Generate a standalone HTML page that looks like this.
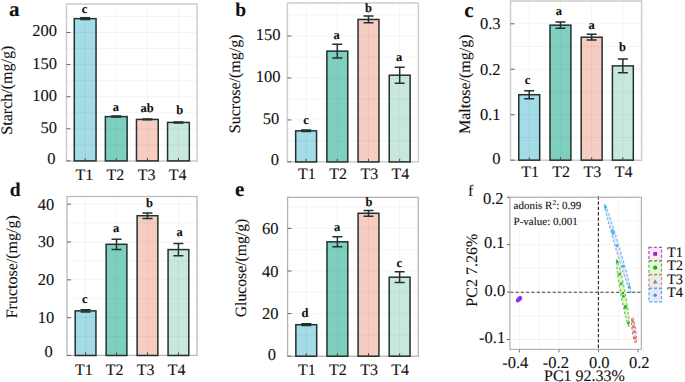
<!DOCTYPE html>
<html><head><meta charset="utf-8"><style>
html,body{margin:0;padding:0;background:#fff;width:685px;height:382px;overflow:hidden}
svg{display:block}
text{text-rendering:geometricPrecision;font-family:"Liberation Serif", serif;fill:#111;stroke:#111;stroke-width:0.1px}
</style></head><body>
<svg width="685" height="382" viewBox="0 0 685 382">
<rect x="74.27" y="18.63" width="21.77" height="142.27" fill="#a3dbe6"/>
<rect x="105.37" y="116.60" width="21.77" height="44.30" fill="#7fcfbf"/>
<rect x="136.46" y="119.43" width="21.77" height="41.47" fill="#f8cdc1"/>
<rect x="167.56" y="122.44" width="21.77" height="38.46" fill="#c8e8de"/>
<line x1="66.5" y1="160.90" x2="197.1" y2="160.90" stroke="rgba(0,0,0,0.055)" stroke-width="0.8"/>
<line x1="66.5" y1="144.85" x2="197.1" y2="144.85" stroke="rgba(0,0,0,0.055)" stroke-width="0.8"/>
<line x1="66.5" y1="128.80" x2="197.1" y2="128.80" stroke="rgba(0,0,0,0.055)" stroke-width="0.8"/>
<line x1="66.5" y1="112.75" x2="197.1" y2="112.75" stroke="rgba(0,0,0,0.055)" stroke-width="0.8"/>
<line x1="66.5" y1="96.70" x2="197.1" y2="96.70" stroke="rgba(0,0,0,0.055)" stroke-width="0.8"/>
<line x1="66.5" y1="80.65" x2="197.1" y2="80.65" stroke="rgba(0,0,0,0.055)" stroke-width="0.8"/>
<line x1="66.5" y1="64.60" x2="197.1" y2="64.60" stroke="rgba(0,0,0,0.055)" stroke-width="0.8"/>
<line x1="66.5" y1="48.55" x2="197.1" y2="48.55" stroke="rgba(0,0,0,0.055)" stroke-width="0.8"/>
<line x1="66.5" y1="32.50" x2="197.1" y2="32.50" stroke="rgba(0,0,0,0.055)" stroke-width="0.8"/>
<line x1="66.5" y1="16.45" x2="197.1" y2="16.45" stroke="rgba(0,0,0,0.055)" stroke-width="0.8"/>
<line x1="85.16" y1="4" x2="85.16" y2="161" stroke="rgba(0,0,0,0.055)" stroke-width="0.8"/>
<line x1="116.25" y1="4" x2="116.25" y2="161" stroke="rgba(0,0,0,0.055)" stroke-width="0.8"/>
<line x1="147.35" y1="4" x2="147.35" y2="161" stroke="rgba(0,0,0,0.055)" stroke-width="0.8"/>
<line x1="178.44" y1="4" x2="178.44" y2="161" stroke="rgba(0,0,0,0.055)" stroke-width="0.8"/>
<rect x="66.5" y="4" width="130.60" height="157.00" fill="none" stroke="#cdcdcd" stroke-width="1.5"/>
<rect x="74.27" y="18.63" width="21.77" height="142.27" fill="none" stroke="#223030" stroke-width="1.5"/>
<path d="M85.16 17.86V19.40M80.16 17.86H90.16M80.16 19.40H90.16" stroke="#223030" stroke-width="1.5" fill="none"/>
<text x="84.55" y="12.90" font-size="12.5" font-weight="bold" text-anchor="middle">c</text>
<rect x="105.37" y="116.60" width="21.77" height="44.30" fill="none" stroke="#223030" stroke-width="1.5"/>
<path d="M116.25 116.09V117.12M111.25 116.09H121.25M111.25 117.12H121.25" stroke="#223030" stroke-width="1.5" fill="none"/>
<text x="115.95" y="111.30" font-size="12.5" font-weight="bold" text-anchor="middle">a</text>
<rect x="136.46" y="119.43" width="21.77" height="41.47" fill="none" stroke="#223030" stroke-width="1.5"/>
<path d="M147.35 119.04V119.81M142.35 119.04H152.35M142.35 119.81H152.35" stroke="#223030" stroke-width="1.5" fill="none"/>
<text x="147.15" y="112.30" font-size="12.5" font-weight="bold" text-anchor="middle">ab</text>
<rect x="167.56" y="122.44" width="21.77" height="38.46" fill="none" stroke="#223030" stroke-width="1.5"/>
<path d="M178.44 121.93V122.96M173.44 121.93H183.44M173.44 122.96H183.44" stroke="#223030" stroke-width="1.5" fill="none"/>
<text x="179.85" y="114.00" font-size="12.5" font-weight="bold" text-anchor="middle">b</text>
<line x1="66.5" y1="160.90" x2="70.5" y2="160.90" stroke="#666" stroke-width="1"/>
<text x="55.50" y="163.90" font-size="16.5" text-anchor="end">0</text>
<line x1="66.5" y1="128.80" x2="70.5" y2="128.80" stroke="#666" stroke-width="1"/>
<text x="57.10" y="132.70" font-size="16.5" text-anchor="end">50</text>
<line x1="66.5" y1="96.70" x2="70.5" y2="96.70" stroke="#666" stroke-width="1"/>
<text x="57.10" y="100.60" font-size="16.5" text-anchor="end">100</text>
<line x1="66.5" y1="64.60" x2="70.5" y2="64.60" stroke="#666" stroke-width="1"/>
<text x="57.10" y="68.50" font-size="16.5" text-anchor="end">150</text>
<line x1="66.5" y1="32.50" x2="70.5" y2="32.50" stroke="#666" stroke-width="1"/>
<text x="57.10" y="36.40" font-size="16.5" text-anchor="end">200</text>
<line x1="85.16" y1="161" x2="85.16" y2="158" stroke="#444" stroke-width="1"/>
<text x="84.36" y="180.00" font-size="16" text-anchor="middle">T1</text>
<line x1="116.25" y1="161" x2="116.25" y2="158" stroke="#444" stroke-width="1"/>
<text x="115.45" y="180.00" font-size="16" text-anchor="middle">T2</text>
<line x1="147.35" y1="161" x2="147.35" y2="158" stroke="#444" stroke-width="1"/>
<text x="146.55" y="180.00" font-size="16" text-anchor="middle">T3</text>
<line x1="178.44" y1="161" x2="178.44" y2="158" stroke="#444" stroke-width="1"/>
<text x="177.64" y="180.00" font-size="16" text-anchor="middle">T4</text>
<text transform="translate(11.8,90.2) rotate(-90)" font-size="16" text-anchor="middle">Starch/(mg/g)</text>
<text x="9.1" y="16" font-size="21" font-weight="bold">a</text>
<rect x="295.67" y="130.85" width="20.90" height="31.05" fill="#a3dbe6"/>
<rect x="326.86" y="51.11" width="20.90" height="110.79" fill="#7fcfbf"/>
<rect x="358.05" y="19.47" width="20.90" height="142.43" fill="#f8cdc1"/>
<rect x="389.24" y="75.20" width="20.90" height="86.70" fill="#c8e8de"/>
<line x1="287.4" y1="140.92" x2="418.4" y2="140.92" stroke="rgba(0,0,0,0.055)" stroke-width="0.8"/>
<line x1="287.4" y1="119.94" x2="418.4" y2="119.94" stroke="rgba(0,0,0,0.055)" stroke-width="0.8"/>
<line x1="287.4" y1="98.95" x2="418.4" y2="98.95" stroke="rgba(0,0,0,0.055)" stroke-width="0.8"/>
<line x1="287.4" y1="77.97" x2="418.4" y2="77.97" stroke="rgba(0,0,0,0.055)" stroke-width="0.8"/>
<line x1="287.4" y1="56.99" x2="418.4" y2="56.99" stroke="rgba(0,0,0,0.055)" stroke-width="0.8"/>
<line x1="287.4" y1="36.00" x2="418.4" y2="36.00" stroke="rgba(0,0,0,0.055)" stroke-width="0.8"/>
<line x1="287.4" y1="15.02" x2="418.4" y2="15.02" stroke="rgba(0,0,0,0.055)" stroke-width="0.8"/>
<line x1="306.11" y1="3" x2="306.11" y2="161.8" stroke="rgba(0,0,0,0.055)" stroke-width="0.8"/>
<line x1="337.30" y1="3" x2="337.30" y2="161.8" stroke="rgba(0,0,0,0.055)" stroke-width="0.8"/>
<line x1="368.50" y1="3" x2="368.50" y2="161.8" stroke="rgba(0,0,0,0.055)" stroke-width="0.8"/>
<line x1="399.69" y1="3" x2="399.69" y2="161.8" stroke="rgba(0,0,0,0.055)" stroke-width="0.8"/>
<rect x="287.4" y="3" width="131.00" height="158.80" fill="none" stroke="#cdcdcd" stroke-width="1.5"/>
<rect x="295.67" y="130.85" width="20.90" height="31.05" fill="none" stroke="#223030" stroke-width="1.5"/>
<path d="M306.11 130.09V131.60M301.11 130.09H311.11M301.11 131.60H311.11" stroke="#223030" stroke-width="1.5" fill="none"/>
<text x="306.00" y="123.60" font-size="12.5" font-weight="bold" text-anchor="middle">c</text>
<rect x="326.86" y="51.11" width="20.90" height="110.79" fill="none" stroke="#223030" stroke-width="1.5"/>
<path d="M337.30 44.23V57.99M332.30 44.23H342.30M332.30 57.99H342.30" stroke="#223030" stroke-width="1.5" fill="none"/>
<text x="336.50" y="39.00" font-size="12.5" font-weight="bold" text-anchor="middle">a</text>
<rect x="358.05" y="19.47" width="20.90" height="142.43" fill="none" stroke="#223030" stroke-width="1.5"/>
<path d="M368.50 16.11V22.83M363.50 16.11H373.50M363.50 22.83H373.50" stroke="#223030" stroke-width="1.5" fill="none"/>
<text x="368.60" y="12.30" font-size="12.5" font-weight="bold" text-anchor="middle">b</text>
<rect x="389.24" y="75.20" width="20.90" height="86.70" fill="none" stroke="#223030" stroke-width="1.5"/>
<path d="M399.69 67.14V83.26M394.69 67.14H404.69M394.69 83.26H404.69" stroke="#223030" stroke-width="1.5" fill="none"/>
<text x="399.20" y="60.50" font-size="12.5" font-weight="bold" text-anchor="middle">a</text>
<line x1="287.4" y1="161.90" x2="291.4" y2="161.90" stroke="#666" stroke-width="1"/>
<text x="278.90" y="164.60" font-size="16.5" text-anchor="end">0</text>
<line x1="287.4" y1="119.94" x2="291.4" y2="119.94" stroke="#666" stroke-width="1"/>
<text x="279.20" y="124.14" font-size="16.5" text-anchor="end">50</text>
<line x1="287.4" y1="77.97" x2="291.4" y2="77.97" stroke="#666" stroke-width="1"/>
<text x="280.40" y="82.17" font-size="16.5" text-anchor="end">100</text>
<line x1="287.4" y1="36.00" x2="291.4" y2="36.00" stroke="#666" stroke-width="1"/>
<text x="280.40" y="40.20" font-size="16.5" text-anchor="end">150</text>
<line x1="306.11" y1="161.8" x2="306.11" y2="158.8" stroke="#444" stroke-width="1"/>
<text x="306.91" y="179.30" font-size="16" text-anchor="middle">T1</text>
<line x1="337.30" y1="161.8" x2="337.30" y2="158.8" stroke="#444" stroke-width="1"/>
<text x="338.10" y="179.30" font-size="16" text-anchor="middle">T2</text>
<line x1="368.50" y1="161.8" x2="368.50" y2="158.8" stroke="#444" stroke-width="1"/>
<text x="369.30" y="179.30" font-size="16" text-anchor="middle">T3</text>
<line x1="399.69" y1="161.8" x2="399.69" y2="158.8" stroke="#444" stroke-width="1"/>
<text x="400.49" y="179.30" font-size="16" text-anchor="middle">T4</text>
<text transform="translate(240.3,83.8) rotate(-90)" font-size="16" text-anchor="middle">Sucrose/(mg/g)</text>
<text x="235.3" y="16" font-size="19.5" font-weight="bold">b</text>
<rect x="518.77" y="94.70" width="20.91" height="65.45" fill="#a3dbe6"/>
<rect x="549.99" y="25.16" width="20.91" height="134.99" fill="#7fcfbf"/>
<rect x="581.20" y="37.21" width="20.91" height="122.94" fill="#f8cdc1"/>
<rect x="612.41" y="65.89" width="20.91" height="94.26" fill="#c8e8de"/>
<line x1="510.5" y1="160.15" x2="641.6" y2="160.15" stroke="rgba(0,0,0,0.055)" stroke-width="0.8"/>
<line x1="510.5" y1="137.43" x2="641.6" y2="137.43" stroke="rgba(0,0,0,0.055)" stroke-width="0.8"/>
<line x1="510.5" y1="114.70" x2="641.6" y2="114.70" stroke="rgba(0,0,0,0.055)" stroke-width="0.8"/>
<line x1="510.5" y1="91.97" x2="641.6" y2="91.97" stroke="rgba(0,0,0,0.055)" stroke-width="0.8"/>
<line x1="510.5" y1="69.25" x2="641.6" y2="69.25" stroke="rgba(0,0,0,0.055)" stroke-width="0.8"/>
<line x1="510.5" y1="46.53" x2="641.6" y2="46.53" stroke="rgba(0,0,0,0.055)" stroke-width="0.8"/>
<line x1="510.5" y1="23.80" x2="641.6" y2="23.80" stroke="rgba(0,0,0,0.055)" stroke-width="0.8"/>
<line x1="510.5" y1="1.08" x2="641.6" y2="1.08" stroke="rgba(0,0,0,0.055)" stroke-width="0.8"/>
<line x1="529.23" y1="1" x2="529.23" y2="160.3" stroke="rgba(0,0,0,0.055)" stroke-width="0.8"/>
<line x1="560.44" y1="1" x2="560.44" y2="160.3" stroke="rgba(0,0,0,0.055)" stroke-width="0.8"/>
<line x1="591.66" y1="1" x2="591.66" y2="160.3" stroke="rgba(0,0,0,0.055)" stroke-width="0.8"/>
<line x1="622.87" y1="1" x2="622.87" y2="160.3" stroke="rgba(0,0,0,0.055)" stroke-width="0.8"/>
<rect x="510.5" y="1" width="131.10" height="159.30" fill="none" stroke="#cdcdcd" stroke-width="1.5"/>
<rect x="518.77" y="94.70" width="20.91" height="65.45" fill="none" stroke="#223030" stroke-width="1.5"/>
<path d="M529.23 90.66V98.75M524.23 90.66H534.23M524.23 98.75H534.23" stroke="#223030" stroke-width="1.5" fill="none"/>
<text x="527.60" y="83.70" font-size="12.5" font-weight="bold" text-anchor="middle">c</text>
<rect x="549.99" y="25.16" width="20.91" height="134.99" fill="none" stroke="#223030" stroke-width="1.5"/>
<path d="M560.44 22.03V28.30M555.44 22.03H565.44M555.44 28.30H565.44" stroke="#223030" stroke-width="1.5" fill="none"/>
<text x="558.90" y="15.20" font-size="12.5" font-weight="bold" text-anchor="middle">a</text>
<rect x="581.20" y="37.21" width="20.91" height="122.94" fill="none" stroke="#223030" stroke-width="1.5"/>
<path d="M591.66 34.30V40.12M586.66 34.30H596.66M586.66 40.12H596.66" stroke="#223030" stroke-width="1.5" fill="none"/>
<text x="591.50" y="28.80" font-size="12.5" font-weight="bold" text-anchor="middle">a</text>
<rect x="612.41" y="65.89" width="20.91" height="94.26" fill="none" stroke="#223030" stroke-width="1.5"/>
<path d="M622.87 59.02V72.75M617.87 59.02H627.87M617.87 72.75H627.87" stroke="#223030" stroke-width="1.5" fill="none"/>
<text x="622.40" y="51.00" font-size="12.5" font-weight="bold" text-anchor="middle">b</text>
<line x1="510.5" y1="160.15" x2="514.5" y2="160.15" stroke="#666" stroke-width="1"/>
<text x="500.50" y="164.25" font-size="16.5" text-anchor="end">0</text>
<line x1="510.5" y1="114.70" x2="514.5" y2="114.70" stroke="#666" stroke-width="1"/>
<text x="500.50" y="120.10" font-size="16.5" text-anchor="end">0.1</text>
<line x1="510.5" y1="69.25" x2="514.5" y2="69.25" stroke="#666" stroke-width="1"/>
<text x="500.50" y="74.65" font-size="16.5" text-anchor="end">0.2</text>
<line x1="510.5" y1="23.80" x2="514.5" y2="23.80" stroke="#666" stroke-width="1"/>
<text x="500.50" y="29.20" font-size="16.5" text-anchor="end">0.3</text>
<line x1="529.23" y1="160.3" x2="529.23" y2="157.3" stroke="#444" stroke-width="1"/>
<text x="530.03" y="177.00" font-size="16" text-anchor="middle">T1</text>
<line x1="560.44" y1="160.3" x2="560.44" y2="157.3" stroke="#444" stroke-width="1"/>
<text x="561.24" y="177.00" font-size="16" text-anchor="middle">T2</text>
<line x1="591.66" y1="160.3" x2="591.66" y2="157.3" stroke="#444" stroke-width="1"/>
<text x="592.46" y="177.00" font-size="16" text-anchor="middle">T3</text>
<line x1="622.87" y1="160.3" x2="622.87" y2="157.3" stroke="#444" stroke-width="1"/>
<text x="623.67" y="177.00" font-size="16" text-anchor="middle">T4</text>
<text transform="translate(469.5,84.2) rotate(-90)" font-size="16" text-anchor="middle">Maltose/(mg/g)</text>
<text x="464.2" y="17" font-size="21" font-weight="bold">c</text>
<rect x="75.20" y="310.87" width="20.74" height="44.63" fill="#a3dbe6"/>
<rect x="106.15" y="244.29" width="20.74" height="111.21" fill="#7fcfbf"/>
<rect x="137.11" y="215.70" width="20.74" height="139.80" fill="#f8cdc1"/>
<rect x="168.06" y="249.59" width="20.74" height="105.91" fill="#c8e8de"/>
<line x1="67" y1="336.59" x2="197" y2="336.59" stroke="rgba(0,0,0,0.055)" stroke-width="0.8"/>
<line x1="67" y1="317.68" x2="197" y2="317.68" stroke="rgba(0,0,0,0.055)" stroke-width="0.8"/>
<line x1="67" y1="298.76" x2="197" y2="298.76" stroke="rgba(0,0,0,0.055)" stroke-width="0.8"/>
<line x1="67" y1="279.85" x2="197" y2="279.85" stroke="rgba(0,0,0,0.055)" stroke-width="0.8"/>
<line x1="67" y1="260.94" x2="197" y2="260.94" stroke="rgba(0,0,0,0.055)" stroke-width="0.8"/>
<line x1="67" y1="242.02" x2="197" y2="242.02" stroke="rgba(0,0,0,0.055)" stroke-width="0.8"/>
<line x1="67" y1="223.11" x2="197" y2="223.11" stroke="rgba(0,0,0,0.055)" stroke-width="0.8"/>
<line x1="67" y1="204.20" x2="197" y2="204.20" stroke="rgba(0,0,0,0.055)" stroke-width="0.8"/>
<line x1="85.57" y1="196.5" x2="85.57" y2="355.4" stroke="rgba(0,0,0,0.055)" stroke-width="0.8"/>
<line x1="116.52" y1="196.5" x2="116.52" y2="355.4" stroke="rgba(0,0,0,0.055)" stroke-width="0.8"/>
<line x1="147.48" y1="196.5" x2="147.48" y2="355.4" stroke="rgba(0,0,0,0.055)" stroke-width="0.8"/>
<line x1="178.43" y1="196.5" x2="178.43" y2="355.4" stroke="rgba(0,0,0,0.055)" stroke-width="0.8"/>
<rect x="67" y="196.5" width="130.00" height="158.90" fill="none" stroke="#b8b8b8" stroke-width="1.25"/>
<rect x="75.20" y="310.87" width="20.74" height="44.63" fill="none" stroke="#223030" stroke-width="1.5"/>
<path d="M85.57 309.73V312.00M80.57 309.73H90.57M80.57 312.00H90.57" stroke="#223030" stroke-width="1.5" fill="none"/>
<text x="84.90" y="302.60" font-size="12.5" font-weight="bold" text-anchor="middle">c</text>
<rect x="106.15" y="244.29" width="20.74" height="111.21" fill="none" stroke="#223030" stroke-width="1.5"/>
<path d="M116.52 239.15V249.44M111.52 239.15H121.52M111.52 249.44H121.52" stroke="#223030" stroke-width="1.5" fill="none"/>
<text x="116.00" y="232.00" font-size="12.5" font-weight="bold" text-anchor="middle">a</text>
<rect x="137.11" y="215.70" width="20.74" height="139.80" fill="none" stroke="#223030" stroke-width="1.5"/>
<path d="M147.48 212.90V218.50M142.48 212.90H152.48M142.48 218.50H152.48" stroke="#223030" stroke-width="1.5" fill="none"/>
<text x="149.40" y="206.70" font-size="12.5" font-weight="bold" text-anchor="middle">b</text>
<rect x="168.06" y="249.59" width="20.74" height="105.91" fill="none" stroke="#223030" stroke-width="1.5"/>
<path d="M178.43 243.39V255.79M173.43 243.39H183.43M173.43 255.79H183.43" stroke="#223030" stroke-width="1.5" fill="none"/>
<text x="179.50" y="236.30" font-size="12.5" font-weight="bold" text-anchor="middle">a</text>
<line x1="67" y1="355.50" x2="71" y2="355.50" stroke="#666" stroke-width="1"/>
<text x="52.80" y="356.80" font-size="16.5" text-anchor="end">0</text>
<line x1="67" y1="317.68" x2="71" y2="317.68" stroke="#666" stroke-width="1"/>
<text x="54.30" y="323.07" font-size="16.5" text-anchor="end">10</text>
<line x1="67" y1="279.85" x2="71" y2="279.85" stroke="#666" stroke-width="1"/>
<text x="54.30" y="285.25" font-size="16.5" text-anchor="end">20</text>
<line x1="67" y1="242.02" x2="71" y2="242.02" stroke="#666" stroke-width="1"/>
<text x="54.30" y="247.42" font-size="16.5" text-anchor="end">30</text>
<line x1="67" y1="204.20" x2="71" y2="204.20" stroke="#666" stroke-width="1"/>
<text x="54.30" y="209.60" font-size="16.5" text-anchor="end">40</text>
<line x1="85.57" y1="355.4" x2="85.57" y2="352.4" stroke="#444" stroke-width="1"/>
<text x="83.77" y="374.90" font-size="16" text-anchor="middle">T1</text>
<line x1="116.52" y1="355.4" x2="116.52" y2="352.4" stroke="#444" stroke-width="1"/>
<text x="114.72" y="374.90" font-size="16" text-anchor="middle">T2</text>
<line x1="147.48" y1="355.4" x2="147.48" y2="352.4" stroke="#444" stroke-width="1"/>
<text x="145.68" y="374.90" font-size="16" text-anchor="middle">T3</text>
<line x1="178.43" y1="355.4" x2="178.43" y2="352.4" stroke="#444" stroke-width="1"/>
<text x="176.63" y="374.90" font-size="16" text-anchor="middle">T4</text>
<text transform="translate(16.8,266.8) rotate(-90)" font-size="16" text-anchor="middle">Fructose/(mg/g)</text>
<text x="9.8" y="195.7" font-size="19.5" font-weight="bold">d</text>
<rect x="295.85" y="324.68" width="20.85" height="31.52" fill="#a3dbe6"/>
<rect x="326.97" y="241.82" width="20.85" height="114.38" fill="#7fcfbf"/>
<rect x="358.08" y="213.28" width="20.85" height="142.92" fill="#f8cdc1"/>
<rect x="389.20" y="277.18" width="20.85" height="79.02" fill="#c8e8de"/>
<line x1="287.6" y1="334.90" x2="418.3" y2="334.90" stroke="rgba(0,0,0,0.055)" stroke-width="0.8"/>
<line x1="287.6" y1="313.60" x2="418.3" y2="313.60" stroke="rgba(0,0,0,0.055)" stroke-width="0.8"/>
<line x1="287.6" y1="292.30" x2="418.3" y2="292.30" stroke="rgba(0,0,0,0.055)" stroke-width="0.8"/>
<line x1="287.6" y1="271.00" x2="418.3" y2="271.00" stroke="rgba(0,0,0,0.055)" stroke-width="0.8"/>
<line x1="287.6" y1="249.70" x2="418.3" y2="249.70" stroke="rgba(0,0,0,0.055)" stroke-width="0.8"/>
<line x1="287.6" y1="228.40" x2="418.3" y2="228.40" stroke="rgba(0,0,0,0.055)" stroke-width="0.8"/>
<line x1="287.6" y1="207.10" x2="418.3" y2="207.10" stroke="rgba(0,0,0,0.055)" stroke-width="0.8"/>
<line x1="306.27" y1="197.3" x2="306.27" y2="356.2" stroke="rgba(0,0,0,0.055)" stroke-width="0.8"/>
<line x1="337.39" y1="197.3" x2="337.39" y2="356.2" stroke="rgba(0,0,0,0.055)" stroke-width="0.8"/>
<line x1="368.51" y1="197.3" x2="368.51" y2="356.2" stroke="rgba(0,0,0,0.055)" stroke-width="0.8"/>
<line x1="399.63" y1="197.3" x2="399.63" y2="356.2" stroke="rgba(0,0,0,0.055)" stroke-width="0.8"/>
<rect x="287.6" y="197.3" width="130.70" height="158.90" fill="none" stroke="#b0b0b0" stroke-width="1.25"/>
<rect x="295.85" y="324.68" width="20.85" height="31.52" fill="none" stroke="#223030" stroke-width="1.5"/>
<path d="M306.27 323.82V325.53M301.27 323.82H311.27M301.27 325.53H311.27" stroke="#223030" stroke-width="1.5" fill="none"/>
<text x="305.10" y="316.50" font-size="12.5" font-weight="bold" text-anchor="middle">d</text>
<rect x="326.97" y="241.82" width="20.85" height="114.38" fill="none" stroke="#223030" stroke-width="1.5"/>
<path d="M337.39 236.77V246.87M332.39 236.77H342.39M332.39 246.87H342.39" stroke="#223030" stroke-width="1.5" fill="none"/>
<text x="337.00" y="230.50" font-size="12.5" font-weight="bold" text-anchor="middle">a</text>
<rect x="358.08" y="213.28" width="20.85" height="142.92" fill="none" stroke="#223030" stroke-width="1.5"/>
<path d="M368.51 210.42V216.13M363.51 210.42H373.51M363.51 216.13H373.51" stroke="#223030" stroke-width="1.5" fill="none"/>
<text x="368.90" y="206.00" font-size="12.5" font-weight="bold" text-anchor="middle">b</text>
<rect x="389.20" y="277.18" width="20.85" height="79.02" fill="none" stroke="#223030" stroke-width="1.5"/>
<path d="M399.63 271.85V282.50M394.63 271.85H404.63M394.63 282.50H404.63" stroke="#223030" stroke-width="1.5" fill="none"/>
<text x="399.20" y="266.80" font-size="12.5" font-weight="bold" text-anchor="middle">c</text>
<line x1="287.6" y1="356.20" x2="291.6" y2="356.20" stroke="#666" stroke-width="1"/>
<text x="275.90" y="359.50" font-size="16.5" text-anchor="end">0</text>
<line x1="287.6" y1="313.60" x2="291.6" y2="313.60" stroke="#666" stroke-width="1"/>
<text x="278.60" y="319.40" font-size="16.5" text-anchor="end">20</text>
<line x1="287.6" y1="271.00" x2="291.6" y2="271.00" stroke="#666" stroke-width="1"/>
<text x="278.60" y="276.80" font-size="16.5" text-anchor="end">40</text>
<line x1="287.6" y1="228.40" x2="291.6" y2="228.40" stroke="#666" stroke-width="1"/>
<text x="278.60" y="234.20" font-size="16.5" text-anchor="end">60</text>
<line x1="306.27" y1="356.2" x2="306.27" y2="353.2" stroke="#444" stroke-width="1"/>
<text x="306.87" y="374.80" font-size="16" text-anchor="middle">T1</text>
<line x1="337.39" y1="356.2" x2="337.39" y2="353.2" stroke="#444" stroke-width="1"/>
<text x="337.99" y="374.80" font-size="16" text-anchor="middle">T2</text>
<line x1="368.51" y1="356.2" x2="368.51" y2="353.2" stroke="#444" stroke-width="1"/>
<text x="369.11" y="374.80" font-size="16" text-anchor="middle">T3</text>
<line x1="399.63" y1="356.2" x2="399.63" y2="353.2" stroke="#444" stroke-width="1"/>
<text x="400.23" y="374.80" font-size="16" text-anchor="middle">T4</text>
<text transform="translate(246.4,268) rotate(-90)" font-size="15.7" text-anchor="middle">Glucose/(mg/g)</text>
<text x="235.1" y="196.1" font-size="21" font-weight="bold">e</text>
<line x1="519.38" y1="197.3" x2="519.38" y2="349.4" stroke="rgba(0,0,0,0.055)" stroke-width="0.8"/>
<line x1="539.16" y1="197.3" x2="539.16" y2="349.4" stroke="rgba(0,0,0,0.055)" stroke-width="0.8"/>
<line x1="558.94" y1="197.3" x2="558.94" y2="349.4" stroke="rgba(0,0,0,0.055)" stroke-width="0.8"/>
<line x1="578.72" y1="197.3" x2="578.72" y2="349.4" stroke="rgba(0,0,0,0.055)" stroke-width="0.8"/>
<line x1="598.50" y1="197.3" x2="598.50" y2="349.4" stroke="rgba(0,0,0,0.055)" stroke-width="0.8"/>
<line x1="618.28" y1="197.3" x2="618.28" y2="349.4" stroke="rgba(0,0,0,0.055)" stroke-width="0.8"/>
<line x1="638.06" y1="197.3" x2="638.06" y2="349.4" stroke="rgba(0,0,0,0.055)" stroke-width="0.8"/>
<line x1="509.9" y1="339.50" x2="641.4" y2="339.50" stroke="rgba(0,0,0,0.055)" stroke-width="0.8"/>
<line x1="509.9" y1="315.80" x2="641.4" y2="315.80" stroke="rgba(0,0,0,0.055)" stroke-width="0.8"/>
<line x1="509.9" y1="292.10" x2="641.4" y2="292.10" stroke="rgba(0,0,0,0.055)" stroke-width="0.8"/>
<line x1="509.9" y1="268.40" x2="641.4" y2="268.40" stroke="rgba(0,0,0,0.055)" stroke-width="0.8"/>
<line x1="509.9" y1="244.70" x2="641.4" y2="244.70" stroke="rgba(0,0,0,0.055)" stroke-width="0.8"/>
<line x1="509.9" y1="221.00" x2="641.4" y2="221.00" stroke="rgba(0,0,0,0.055)" stroke-width="0.8"/>
<line x1="598.40" y1="196.2" x2="598.40" y2="349.4" stroke="#333" stroke-width="1.2" stroke-dasharray="3.3 2"/>
<line x1="510.2" y1="292.30" x2="641.4" y2="292.30" stroke="#3d3d3d" stroke-width="1.05" stroke-dasharray="3.2 2.1"/>
<ellipse cx="519" cy="299.2" rx="3.8" ry="2.3" transform="rotate(-48 519 299.2)" fill="#8d2fe6"/>
<ellipse cx="617.75" cy="248.45" rx="46.48" ry="1.9" transform="rotate(73.44 617.75 248.45)" fill="#f3dcf7" stroke="#55cde6" stroke-width="1.15" stroke-dasharray="2.6 1.9"/>
<circle cx="605.56" cy="207.46" r="1.35" fill="#2fb8dd"/>
<circle cx="612.45" cy="230.63" r="1.35" fill="#2fb8dd"/>
<circle cx="613.25" cy="233.30" r="1.35" fill="#2fb8dd"/>
<circle cx="616.96" cy="245.78" r="1.35" fill="#2fb8dd"/>
<circle cx="623.05" cy="266.27" r="1.35" fill="#2fb8dd"/>
<circle cx="629.14" cy="286.76" r="1.35" fill="#2fb8dd"/>
<ellipse cx="622.90" cy="293.05" rx="33.90" ry="2.2" transform="rotate(79.63 622.90 293.05)" fill="#eaeccd" stroke="#4fd24f" stroke-width="1.15" stroke-dasharray="2.6 1.9"/>
<circle cx="617.17" cy="261.70" r="1.35" fill="#19b919"/>
<circle cx="619.48" cy="274.37" r="1.35" fill="#19b919"/>
<circle cx="621.19" cy="283.71" r="1.35" fill="#19b919"/>
<circle cx="622.90" cy="293.05" r="1.35" fill="#19b919"/>
<circle cx="623.51" cy="296.38" r="1.35" fill="#19b919"/>
<circle cx="625.34" cy="306.39" r="1.35" fill="#19b919"/>
<circle cx="625.58" cy="307.72" r="1.35" fill="#19b919"/>
<circle cx="628.39" cy="323.06" r="1.35" fill="#19b919"/>
<ellipse cx="633.95" cy="330.05" rx="12.86" ry="1.8" transform="rotate(82.63 633.95 330.05)" fill="#d5f0f2" stroke="#ef7474" stroke-width="1.15" stroke-dasharray="2.6 1.9"/>
<path d="M630.89 322.62L632.79 319.23L634.69 322.62Z" fill="#ea6464"/>
<path d="M631.55 327.73L633.45 324.33L635.35 327.73Z" fill="#ea6464"/>
<path d="M632.22 332.82L634.12 329.43L636.01 332.82Z" fill="#ea6464"/>
<path d="M633.04 339.20L634.94 335.80L636.84 339.20Z" fill="#ea6464"/>
<rect x="509.9" y="197.3" width="131.50" height="152.10" fill="none" stroke="#b4b4b4" stroke-width="1.25"/>
<line x1="506.9" y1="197.30" x2="509.9" y2="197.30" stroke="#666" stroke-width="1"/>
<text x="503.6" y="204.00" font-size="16.5" text-anchor="end">0.2</text>
<line x1="506.9" y1="244.70" x2="509.9" y2="244.70" stroke="#666" stroke-width="1"/>
<text x="504.6" y="247.90" font-size="16.5" text-anchor="end">0.1</text>
<line x1="506.9" y1="292.10" x2="509.9" y2="292.10" stroke="#666" stroke-width="1"/>
<text x="505.2" y="295.90" font-size="16.5" text-anchor="end">0.0</text>
<line x1="506.9" y1="339.50" x2="509.9" y2="339.50" stroke="#666" stroke-width="1"/>
<text x="505.2" y="342.90" font-size="16.5" text-anchor="end">-0.1</text>
<line x1="519.38" y1="349.4" x2="519.38" y2="352.4" stroke="#777" stroke-width="1"/>
<text x="515.3" y="367.6" font-size="16.5" text-anchor="middle">-0.4</text>
<line x1="558.94" y1="349.4" x2="558.94" y2="352.4" stroke="#777" stroke-width="1"/>
<text x="555.9" y="367.6" font-size="16.5" text-anchor="middle">-0.2</text>
<line x1="598.50" y1="349.4" x2="598.50" y2="352.4" stroke="#777" stroke-width="1"/>
<text x="599.3" y="367.6" font-size="16.5" text-anchor="middle">0.0</text>
<line x1="638.06" y1="349.4" x2="638.06" y2="352.4" stroke="#777" stroke-width="1"/>
<text x="639.2" y="367.6" font-size="16.5" text-anchor="middle">0.2</text>
<text x="584.5" y="381" font-size="16" text-anchor="middle">PC1 92.33%</text>
<text transform="translate(477,270.2) rotate(-90)" font-size="16" text-anchor="middle">PC2 7.26%</text>
<text x="468" y="195.7" font-size="16">f</text>
<text x="513.6" y="208.7" font-size="11">adonis R<tspan font-size="7.5" dy="-3.8">2</tspan><tspan dy="3.8">: 0.99</tspan></text>
<text x="513.6" y="224.7" font-size="11">P-value: 0.001</text>
<rect x="648.9" y="247.30" width="12.6" height="13.2" fill="#fde6ec" stroke="#a24fe6" stroke-width="1.2" stroke-dasharray="3 2"/>
<rect x="648.9" y="261.10" width="12.6" height="13.2" fill="#eef2dc" stroke="#3fcf3f" stroke-width="1.2" stroke-dasharray="3 2"/>
<rect x="648.9" y="274.90" width="12.6" height="13.2" fill="#d9f3f4" stroke="#f07676" stroke-width="1.2" stroke-dasharray="3 2"/>
<rect x="648.9" y="288.70" width="12.6" height="13.2" fill="#f3e2f8" stroke="#32c2e0" stroke-width="1.2" stroke-dasharray="3 2"/>
<rect x="653.3000000000001" y="252.0" width="3.8" height="3.8" fill="#8f22d6"/>
<text x="666.9" y="256.60" font-size="14.5">T1</text>
<circle cx="655.2" cy="267.70000000000005" r="2.1" fill="#10b510"/>
<text x="666.9" y="270.10" font-size="14.5">T2</text>
<path d="M652.8000000000001 283.40000000000003L655.2 279.20000000000005L657.6 283.40000000000003Z" fill="#e06464"/>
<text x="666.9" y="283.60" font-size="14.5">T3</text>
<circle cx="655.2" cy="295.30000000000007" r="1.7" fill="#20a6dc"/>
<text x="666.9" y="297.10" font-size="14.5">T4</text>
</svg></body></html>
